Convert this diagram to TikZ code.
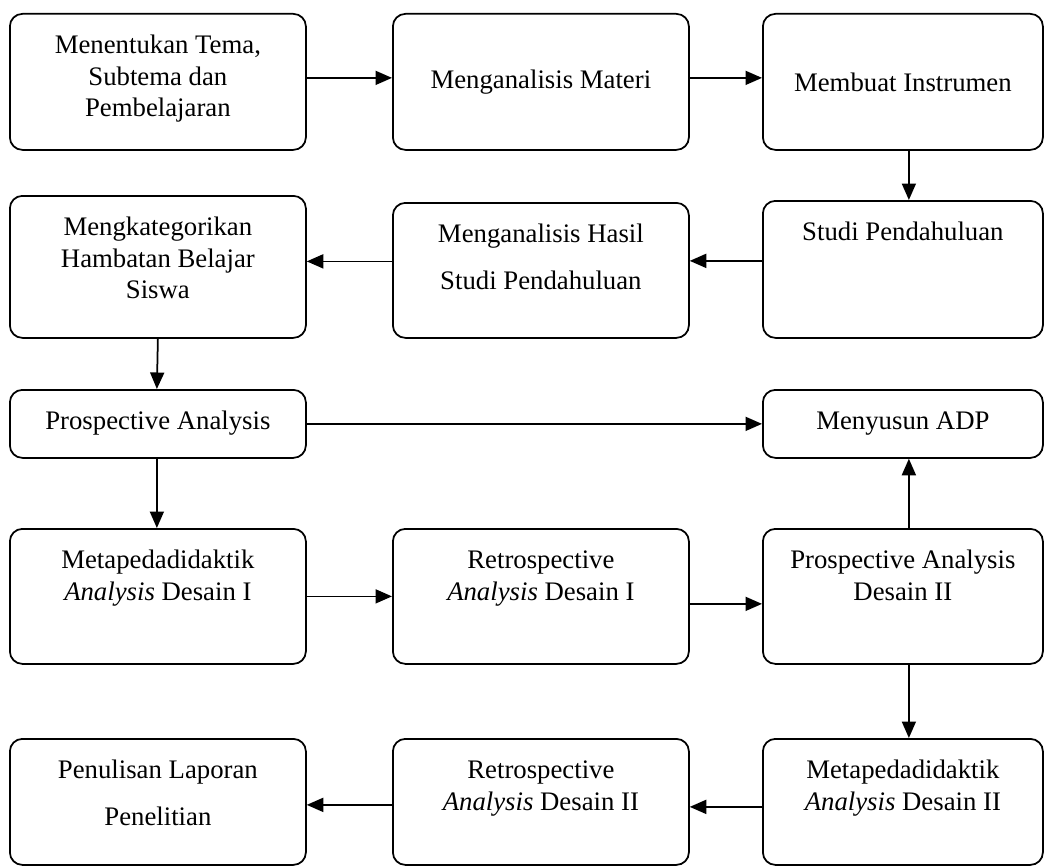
\documentclass[tikz,border=0pt]{standalone}
\usepackage{fontspec}
\setmainfont{Liberation Serif}
\usepackage{tikz}
\usetikzlibrary{arrows.meta,positioning}
% box text: width, height, text (top-aligned unless [c])
\newcommand{\boxbody}[4][t]{\begin{minipage}[t][#3][#1]{#2}\centering\ifx t#1\rule{0pt}{16pt}\fi#4\end{minipage}}

\begin{document}
\begin{tikzpicture}[x=0.4pt,y=-0.4pt,>={Triangle[length=6.6pt,width=5.6pt]},
    font=\fontsize{10.7}{12.6}\selectfont,
    box/.style={draw,line width=0.7pt,rounded corners=5pt,inner sep=0pt,anchor=north west},
    flow/.style={->,line width=0.7pt}]
  \useasboundingbox (0,0) rectangle (1045,866);
  % row 1
  \node[box] (tema) at (9,13) {\boxbody{118.4pt}{54.4pt}{Menentukan Tema,\\ Subtema dan\\ Pembelajaran}};
  \node[box] (materi) at (392,13) {\boxbody[c]{118.4pt}{54.4pt}{Menganalisis Materi}};
  \node[box] (instrumen) at (762,13) {\boxbody[c]{112pt}{54.4pt}{Membuat Instrumen}};
  % row 2
  \node[box] (kategori) at (9,195) {\boxbody{118.4pt}{56.8pt}{Mengkategorikan\\ Hambatan Belajar\\ Siswa}};
  \node[box] (hasil) at (392,202) {\boxbody{118.4pt}{54pt}{Menganalisis Hasil\\[6pt] Studi Pendahuluan}};
  \node[box] (studi) at (762,200) {\boxbody{112pt}{54.8pt}{Studi Pendahuluan}};
  % row 3
  \node[box] (prosp) at (9,389) {\boxbody{118.4pt}{27.2pt}{Prospective Analysis}};
  \node[box] (adp) at (762,389) {\boxbody{112pt}{27.2pt}{Menyusun ADP}};
  % row 4
  \node[box] (meta1) at (9,528) {\boxbody{118.4pt}{54pt}{Metapedadidaktik\\ \textit{Analysis} Desain I}};
  \node[box] (retro1) at (392,528) {\boxbody{118.4pt}{54pt}{Retrospective\\ \textit{Analysis} Desain I}};
  \node[box] (prosp2) at (762,528) {\boxbody{112pt}{54pt}{Prospective Analysis\\ Desain II}};
  % row 5
  \node[box] (laporan) at (9,738) {\boxbody{118.4pt}{50.4pt}{Penulisan Laporan\\[6pt] Penelitian}};
  \node[box] (retro2) at (392,738) {\boxbody{118.4pt}{50.4pt}{Retrospective\\ \textit{Analysis} Desain II}};
  \node[box] (meta2) at (762,738) {\boxbody{112pt}{50.4pt}{Metapedadidaktik\\ \textit{Analysis} Desain II}};

  \draw[flow] ([yshift=1.6pt]tema.east) -- ([yshift=1.6pt]materi.west);
  \draw[flow] ([yshift=1.6pt]materi.east) -- ([yshift=1.6pt]instrumen.west);
  \draw[flow] ([xshift=2.4pt]instrumen.south) -- ([xshift=2.4pt]studi.north);
  \draw[flow] ([yshift=3.4pt]studi.west) -- ([yshift=3.4pt]studi.west -| hasil.east);
  \draw[flow] ([yshift=3.6pt]hasil.west) -- ([yshift=3.6pt]hasil.west -| kategori.east);
  \draw[flow] (kategori.south) -- ([xshift=-0.4pt]prosp.north);
  \draw[flow] (prosp.east) -- (prosp.east -| adp.west);
  \draw[flow] ([xshift=-0.4pt]prosp.south) -- ([xshift=-0.4pt]meta1.north);
  \draw[flow] (meta1.east) -- (meta1.east -| retro1.west);
  \draw[flow] ([yshift=-3pt]retro1.east) -- ([yshift=-3pt]prosp2.west);
  \draw[flow] ([xshift=2.4pt]prosp2.north) -- ([xshift=2.4pt]adp.south);
  \draw[flow] ([xshift=2.4pt]prosp2.south) -- ([xshift=2.4pt]meta2.north);
  \draw[flow] ([yshift=-2pt]meta2.west) -- ([yshift=-2pt]meta2.west -| retro2.east);
  \draw[flow] ([yshift=-1.2pt]retro2.west) -- ([yshift=-1.2pt]retro2.west -| laporan.east);
\end{tikzpicture}
\end{document}
